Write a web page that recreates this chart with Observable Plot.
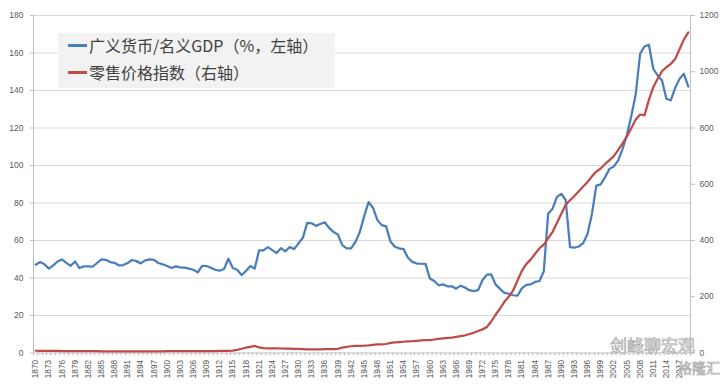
<!DOCTYPE html>
<html>
<head>
<meta charset="utf-8">
<script src="https://cdn.jsdelivr.net/npm/d3@7"></script>
<script src="https://cdn.jsdelivr.net/npm/@observablehq/plot@0.6"></script>
<style>
  body { margin: 0; background: #ffffff; }
  #wrap { position: relative; width: 727px; height: 387px; overflow: hidden; }
  #legend { position: absolute; left: 58px; top: 33px; width: 277px; height: 55px; background: #f2f2f2;
            font-family: "Noto Sans CJK SC", sans-serif; }
  .row { position: absolute; left: 0; width: 277px; height: 22px; }
  .sw { position: absolute; left: 10px; top: 10px; width: 19px; height: 2.5px; }
  .lbl { position: absolute; left: 31px; top: 0; font-size: 16px; line-height: 22px; color: #404040; white-space: nowrap; }
  .wm { position: absolute; font-family: "Noto Sans CJK SC", sans-serif; color: #ffffff;
        -webkit-text-stroke: 0.7px #a8a8a8; white-space: nowrap; }
</style>
</head>
<body>
<div id="wrap">
  <div id="chart"></div>
  <div id="legend"></div>
  <div class="wm" style="left:610px; top:333px; font-size:17px; line-height:24px;">剑峰聊宏观</div>
  <div class="wm" style="left:678px; top:356px; font-size:14px; line-height:22px;">格隆汇</div>
</div>
<script>
// ---- data ----
const firstYear = 1870;
const lastYear = 2019;
const years = d3.range(firstYear, lastYear + 1);

// 广义货币/名义GDP (%), left axis, 1870–2019
const m2gdp = [
  47.1, 48.5, 47.3, 45.0, 46.7, 48.8, 49.9, 48.1, 46.5, 48.8,
  45.3, 46.2, 46.2, 46.0, 48.0, 49.9, 49.7, 48.5, 48.1, 46.7,
  46.9, 48.0, 49.6, 49.0, 47.8, 49.4, 49.9, 49.7, 48.0, 47.3,
  46.4, 45.3, 46.2, 45.7, 45.5, 45.0, 44.4, 43.0, 46.5, 46.4,
  45.5, 44.4, 43.9, 44.8, 50.3, 45.3, 44.4, 41.6, 43.7, 46.4,
  45.0, 54.7, 54.7, 56.5, 54.9, 53.3, 55.9, 54.2, 56.5, 55.4,
  58.5, 61.5, 69.4, 69.2, 67.8, 68.8, 69.7, 66.7, 64.5, 63.2,
  57.5, 55.8, 55.8, 59.2, 64.5, 73.0, 80.5, 77.5, 71.0, 68.2,
  67.5, 59.5, 56.7, 55.8, 55.4, 50.8, 48.6, 47.7, 47.6, 47.5,
  39.7, 38.4, 36.1, 36.6, 35.6, 35.6, 34.3, 35.9, 34.9, 33.5,
  33.0, 33.5, 38.8, 41.8, 41.9, 36.6, 34.2, 32.1, 31.6, 30.8,
  30.6, 34.5, 36.3, 36.6, 37.9, 38.4, 43.4, 74.3, 76.9, 83.3,
  84.9, 81.6, 56.5, 56.2, 56.8, 58.6, 63.6, 74.2, 89.3, 89.9,
  93.8, 98.2, 99.5, 102.7, 108.9, 116.5, 126.5, 138.0, 159.6, 163.5,
  164.4, 151.6, 148.0, 145.3, 135.6, 134.7, 141.4, 146.2, 148.9, 142.1
];

// 零售价格指数, right axis, 1870–2019
const retail = [
  8.0, 7.8, 7.6, 7.5, 7.3, 7.2, 7.0, 7.0, 6.8, 6.6,
  6.6, 6.6, 6.5, 6.5, 6.3, 6.2, 6.2, 6.2, 6.2, 6.2,
  6.2, 6.2, 6.1, 6.1, 6.0, 6.0, 6.0, 6.0, 6.0, 6.1,
  6.3, 6.4, 6.5, 6.5, 6.6, 6.6, 6.8, 6.9, 6.8, 6.9,
  7.0, 7.0, 7.2, 7.2, 7.3, 8.5, 11, 15, 19, 22,
  25, 20, 17, 16.5, 16.5, 16.5, 16, 15.5, 15.5, 15,
  14.5, 13.5, 12.5, 12.5, 13, 13, 13.5, 14, 14, 15,
  19, 22, 24, 25, 25.5, 26, 27, 29, 31, 31,
  32, 36, 38, 39, 40, 41, 42, 43.5, 45, 46,
  46, 48, 50, 52, 54, 55, 57, 60, 63, 67,
  72, 78, 84, 92, 112, 136, 158, 182, 200, 222,
  258, 292, 316, 332, 352, 372, 385, 408, 430, 462,
  495, 527, 543, 558, 575, 592, 608, 628, 645, 656,
  672, 686, 700, 722, 745, 770, 800, 830, 848, 845,
  900, 945, 975, 1002, 1016, 1028, 1045, 1080, 1115, 1140
];

const leftTicks = [0, 20, 40, 60, 80, 100, 120, 140, 160, 180];
const rightTicks = [0, 200, 400, 600, 800, 1000, 1200];
const labelYears = years.filter((y) => (y - firstYear) % 3 === 0);

const seriesNames = ["广义货币/名义GDP（%，左轴）", "零售价格指数（右轴）"];
const seriesColors = ["#4a7ebb", "#be4b48"];

// ---- build ----
const leftMax = leftTicks[leftTicks.length - 1];
const rightMax = rightTicks[rightTicks.length - 1];
const k = leftMax / rightMax;
const blueData = years.map((y, i) => ({ year: y, v: m2gdp[i] }));
const redData = years.map((y, i) => ({ year: y, v: retail[i] * k }));
const x0 = firstYear - 0.5, x1 = lastYear + 0.5;
const boundaries = d3.range(firstYear, lastYear + 2).map((y) => y - 0.5);

const axisGray = "#bfbfbf";
const textGray = "#595959";

const chart = Plot.plot({
  width: 727,
  height: 387,
  marginLeft: 33,
  marginRight: 37,
  marginTop: 15,
  marginBottom: 34.5,
  x: { type: "linear", domain: [x0, x1] },
  y: { domain: [0, leftMax] },
  style: { fontFamily: "'Liberation Sans', Arial, sans-serif", background: "transparent", overflow: "visible" },
  marks: [
    Plot.gridY(leftTicks.filter((t) => t > 0), { stroke: "#d9d9d9", strokeOpacity: 1 }),
    Plot.axisY({ ticks: leftTicks, tickSize: 3, tickPadding: 7, fontSize: 8.5, fill: textGray, stroke: axisGray, label: null }),
    Plot.axisY({ anchor: "right", ticks: rightTicks.map((t) => t * k), tickFormat: (d) => String(Math.round(d / k)),
                 tickSize: 4, tickPadding: 5, fontSize: 8.5, fill: textGray, stroke: axisGray, label: null }),
    Plot.axisX({ ticks: boundaries, tickSize: 3, tickFormat: () => "", stroke: axisGray, label: null }),
    Plot.axisX({ ticks: labelYears, tickSize: 0, tickRotate: -90, tickPadding: 7, fontSize: 8.2, fill: textGray,
                 tickFormat: (d) => String(d), label: null }),
    Plot.ruleX([x0], { stroke: axisGray }),
    Plot.ruleX([x1], { stroke: axisGray }),
    Plot.ruleY([0], { stroke: axisGray }),
    Plot.lineY(blueData, { x: "year", y: "v", stroke: seriesColors[0], strokeWidth: 2.25, strokeLinejoin: "round" }),
    Plot.lineY(redData, { x: "year", y: "v", stroke: seriesColors[1], strokeWidth: 2.25, strokeLinejoin: "round" })
  ]
});
document.getElementById("chart").appendChild(chart);

// legend
const legend = document.getElementById("legend");
seriesNames.forEach((name, i) => {
  const row = document.createElement("div");
  row.className = "row";
  row.style.top = (1 + i * 27) + "px";
  const sw = document.createElement("div");
  sw.className = "sw";
  sw.style.background = seriesColors[i];
  const lbl = document.createElement("div");
  lbl.className = "lbl";
  lbl.textContent = name;
  row.appendChild(sw);
  row.appendChild(lbl);
  legend.appendChild(row);
});
</script>
</body>
</html>
